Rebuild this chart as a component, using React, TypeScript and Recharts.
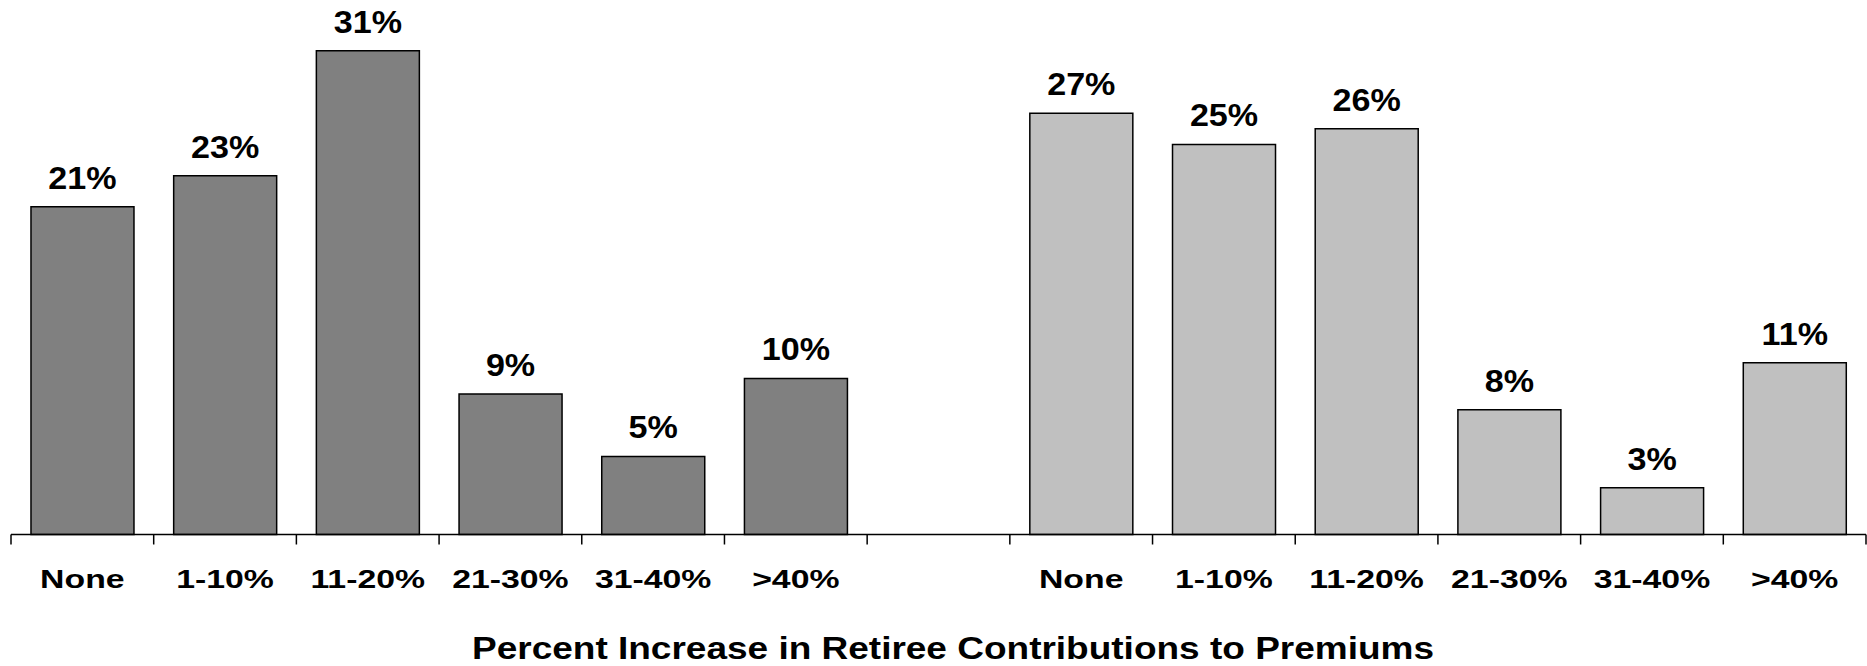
import React from 'react';
import { BarChart, Bar, XAxis, YAxis, Cell, LabelList } from 'recharts';

const categories = ['None', '1-10%', '11-20%', '21-30%', '31-40%', '>40%'];
const leftValues = [21, 23, 31, 9, 5, 10];
const rightValues = [27, 25, 26, 8, 3, 11];
const title = 'Percent Increase in Retiree Contributions to Premiums';

const DARK = '#808080';
const LIGHT = '#C0C0C0';
const FONT = '"Liberation Sans", Arial, sans-serif';

type Row = { idx: number; cat: string; value: number | null; group: 'left' | 'right' | 'gap' };

const rows: Row[] = [
  ...categories.map((c, i) => ({ idx: i, cat: c, value: leftValues[i], group: 'left' as const })),
  { idx: 6, cat: '', value: null, group: 'gap' as const },
  ...categories.map((c, i) => ({ idx: 7 + i, cat: c, value: rightValues[i], group: 'right' as const })),
];

const edgeTicks = Array.from({ length: rows.length + 1 }, (_, i) => i);

const EmptyTick = () => <g />;

const CatTick = (props: any) => {
  const { x, y, payload } = props;
  if (!payload || !payload.value) return null;
  return (
    <g transform={`translate(${x},${y + 52.5}) scale(1.3,1)`}>
      <text x={0} y={0} textAnchor="middle" fontFamily={FONT} fontWeight="bold" fontSize={26} fill="#000">
        {payload.value}
      </text>
    </g>
  );
};

const ValueLabel = (props: any) => {
  const { x, y, width, value } = props;
  if (value === null || value === undefined) return null;
  return (
    <g transform={`translate(${x + width / 2},${y - 18}) scale(1.1,1)`}>
      <text x={0} y={0} textAnchor="middle" fontFamily={FONT} fontWeight="bold" fontSize={31} fill="#000">
        {`${value}%`}
      </text>
    </g>
  );
};

export default function App() {
  return (
    <div style={{ position: 'absolute', left: 0, top: 0, width: 1867, height: 666, background: '#fff' }}>
      <BarChart
        width={1867}
        height={666}
        data={rows}
        margin={{ top: 4, right: 1, left: 11, bottom: 0 }}
        barCategoryGap="14%"
      >
        <XAxis
          xAxisId="a_edges"
          type="number"
          dataKey="idx"
          domain={[0, rows.length]}
          ticks={edgeTicks}
          allowDataOverflow
          interval={0}
          height={1}
          tick={<EmptyTick />}
          tickSize={10}
          tickLine={{ stroke: '#000', strokeWidth: 1.5 }}
          axisLine={{ stroke: '#000', strokeWidth: 1.5 }}
        />
        <XAxis
          xAxisId="b_cat"
          dataKey="cat"
          type="category"
          allowDuplicatedCategory
          height={130.5}
          axisLine={false}
          tickLine={false}
          tickSize={0}
          tickMargin={0}
          interval={0}
          tick={<CatTick />}
        />
        <YAxis hide domain={[0, 34]} type="number" />
        <Bar xAxisId="b_cat" dataKey="value" stroke="#000" strokeWidth={1.5} isAnimationActive={false}>
          {rows.map((r, i) => (
            <Cell key={i} fill={r.group === 'right' ? LIGHT : DARK} />
          ))}
          <LabelList dataKey="value" content={<ValueLabel />} />
        </Bar>
      </BarChart>
      <svg
        width={1867}
        height={666}
        style={{ position: 'absolute', left: 0, top: 0, pointerEvents: 'none' }}
      >
        <text
          x={953}
          y={659}
          textAnchor="middle"
          fontFamily={FONT}
          fontWeight="bold"
          fontSize={31}
          fill="#000"
          textLength={962}
          lengthAdjust="spacingAndGlyphs"
        >
          {title}
        </text>
      </svg>
    </div>
  );
}
